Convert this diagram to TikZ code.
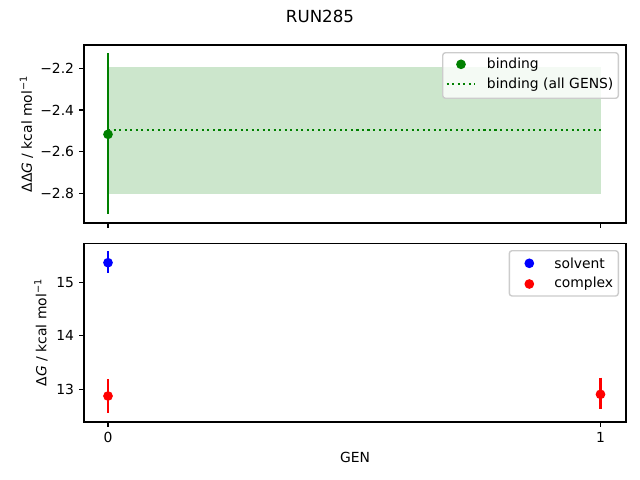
\documentclass[tikz,border=0pt]{standalone}
\usepackage{fontspec}
\setmainfont{DejaVu Sans}
\definecolor{mgreen}{HTML}{008000}
\definecolor{mband}{HTML}{CCE6CC}
\definecolor{mblue}{HTML}{0000FF}
\definecolor{mred}{HTML}{FF0000}
\definecolor{lgframe}{HTML}{CCCCCC}
\begin{document}
\begin{tikzpicture}[x=0.72pt,y=-0.72pt,
  axisframe/.style={draw=black,line width=0.8pt},
  tickmark/.style={draw=black,line width=0.8pt},
  ticklab/.style={font=\fontsize{10}{12}\selectfont,inner sep=0pt},
  errbar/.style={line width=1.5pt},
  marker/.style={circle,inner sep=0pt,minimum size=7pt},
  legendbox/.style={draw=lgframe,line width=1pt,fill=white,fill opacity=0.8,rounded corners=2pt},
  legtext/.style={font=\fontsize{10}{12}\selectfont,inner sep=0pt,anchor=west}]
\useasboundingbox (0,0) rectangle (640,480);
\fill[white] (0,0) rectangle (640,480);
% title
\node[font=\fontsize{12}{14}\selectfont,inner sep=0pt] (title) at (320,16.7) {RUN285};
% ---------- top axes ----------
\fill[mband] (108,66.7) rectangle (600.5,194.3);
\draw[mgreen,line width=1.5pt,dash pattern=on 1.5pt off 2.475pt] (108,129.7) -- (600.5,129.7);
\draw[mgreen,errbar] (108,53.3) -- (108,214.3);
\node[marker,fill=mgreen] (gpt) at (108,134.3) {};
\draw[axisframe] (84,45) rectangle (626,223);
% y ticks top
\foreach \yy/\lab [count=\i] in {68.3/−2.2,110/−2.4,151.7/−2.6,193.3/−2.8}{
  \draw[tickmark] (84,\yy) -- ++(-4.86,0);
  \node[ticklab,anchor=east] (tt\i) at (74.3,\yy) {\lab};
}
% x ticks top
\draw[tickmark] (108,223) -- ++(0,4.86);
\draw[tickmark] (600.5,223) -- ++(0,4.86);
\node[font=\fontsize{10}{12}\selectfont,rotate=90,inner sep=0pt] (ylab1) at (26.5,134) {ΔΔ\textit{G} / kcal mol\textsuperscript{−1}};
% legend top
\draw[legendbox] (442.7,52.7) rectangle (618.3,98.3);
\node[marker,fill=mgreen] (lg1m) at (461,64.3) {};
\draw[mgreen,line width=1.5pt,dash pattern=on 1.5pt off 2.475pt] (446.7,84.3) -- (475,84.3);
\node[legtext] (lg1a) at (486.7,64.3) {binding};
\node[legtext] (lg1b) at (486.7,84.3) {binding (all GENS)};
% ---------- bottom axes ----------
\draw[mblue,errbar] (108,251) -- (108,273.3);
\node[marker,fill=mblue] (bpt) at (108,262.7) {};
\draw[mred,errbar] (108,379.3) -- (108,413.3);
\node[marker,fill=mred] (rpt0) at (108,396) {};
\draw[mred,errbar] (600.5,377.7) -- (600.5,409.3);
\node[marker,fill=mred] (rpt1) at (600.5,394.3) {};
\draw[axisframe] (84,243.3) rectangle (626,422);
\foreach \yy/\lab [count=\i] in {282.3/15,335.8/14,389.3/13}{
  \draw[tickmark] (84,\yy) -- ++(-4.86,0);
  \node[ticklab,anchor=east] (bt\i) at (74.3,\yy) {\lab};
}
\draw[tickmark] (108,422) -- ++(0,4.86);
\draw[tickmark] (600.5,422) -- ++(0,4.86);
\node[ticklab] (xt0) at (108,437) {0};
\node[ticklab] (xt1) at (600.5,437) {1};
\node[font=\fontsize{10}{12}\selectfont,inner sep=0pt] (xlab) at (355,457.5) {GEN};
\node[font=\fontsize{10}{12}\selectfont,rotate=90,inner sep=0pt] (ylab2) at (41,332.5) {Δ\textit{G} / kcal mol\textsuperscript{−1}};
% legend bottom
\draw[legendbox] (509.3,250.7) rectangle (618.3,296);
\node[marker,fill=mblue] (lg2a) at (529.3,263.3) {};
\node[marker,fill=mred] (lg2b) at (529.3,284) {};
\node[legtext] (lg2at) at (554,263.3) {solvent};
\node[legtext] (lg2bt) at (554,284) {complex};
\end{tikzpicture}
\end{document}
